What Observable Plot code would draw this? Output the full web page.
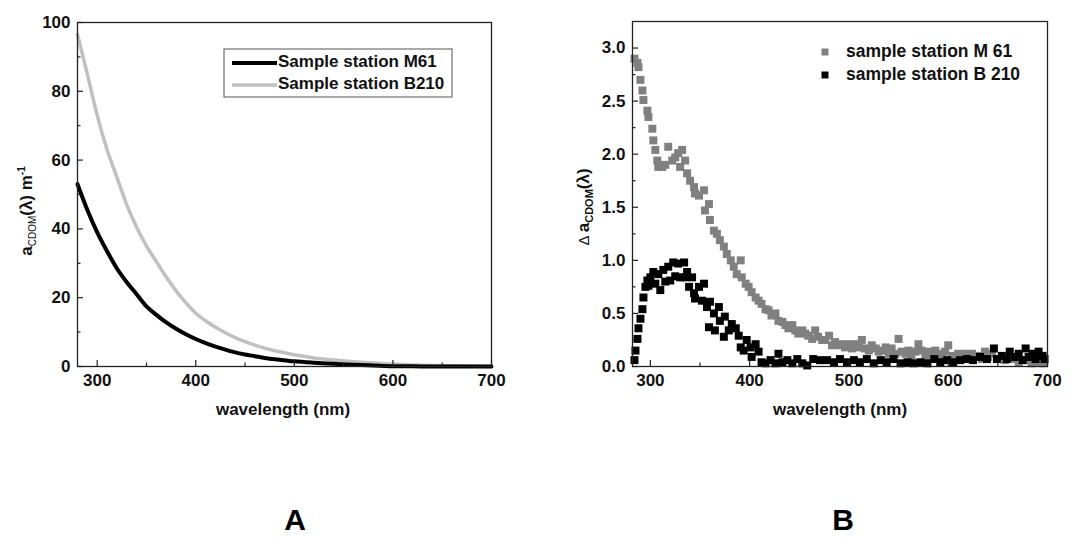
<!DOCTYPE html>
<html><head><meta charset="utf-8">
<script src="https://cdn.jsdelivr.net/npm/d3@7"></script>
<script src="https://cdn.jsdelivr.net/npm/@observablehq/plot@0.6"></script>
<style>
body{margin:0;background:#fff;}
#wrap{position:relative;width:1074px;height:539px;overflow:hidden;background:#fff;font-family:"Liberation Sans",Arial,sans-serif;}
#pa{position:absolute;left:0;top:0;}
#pb{position:absolute;left:540px;top:0;}
.plabel{position:absolute;top:504px;width:60px;text-align:center;font-weight:bold;font-size:30px;line-height:32px;}
</style></head><body>
<div id="wrap"><div id="pa"></div><div id="pb"></div>
<div class="plabel" style="left:265px">A</div><div class="plabel" style="left:813px">B</div></div>
<script>
// ---- Panel A data (wavelength in nm, absorption in m^-1)
const wlA = [280,290,300,310,320,330,340,350,360,370,380,390,400,410,420,430,440,450,460,470,480,490,500,520,540,560,580,600,620,640,660,680,700];
const aM61 = [53,45.5,39,33.5,28.5,24.5,21,17.5,15,12.8,11,9.4,8,6.8,5.8,4.9,4.1,3.5,3.0,2.5,2.1,1.8,1.5,1.1,0.8,0.5,0.3,0.1,0.05,0,0,0,0];
const aB210 = [96.5,85,73,63,55,47,40.5,35,30.5,26,22,18.5,15.5,13.3,11.4,9.8,8.4,7.2,6.2,5.3,4.6,4.0,3.4,2.5,1.9,1.4,1.0,0.7,0.45,0.3,0.2,0.1,0];
const seriesA = ["Sample station M61","Sample station B210"];
const colorsA = ["#000000","#c0c0c0"];

// ---- Panel B data
const wlM61 = [284,287,288,290,292,293,297,298,302,303,305,307,308,312,315,318,322,325,328,330,332,335,337,340,344,345,349,354,355,359,360,364,367,370,374,377,381,384,387,391,392,396,399,402,406,409,412,416,419,422,426,429,433,436,439,443,446,449,453,456,459,463,466,469,473,476,480,483,486,490,493,496,500,503,506,510,513,516,520,523,527,530,533,537,540,543,547,550,553,557,560,563,567,570,573,577,580,583,587,590,594,597,600,604,607,610,614,617,620,624,627,630,634,637,640,644,651,657,664,671,677,684,691,696];
const dM61 = [2.90,2.86,2.82,2.70,2.60,2.51,2.41,2.35,2.24,2.13,2.04,1.94,1.88,1.88,1.90,2.07,1.94,1.97,2.01,1.88,2.04,1.94,1.82,1.75,1.69,1.63,1.61,1.66,1.47,1.53,1.38,1.28,1.25,1.19,1.13,1.06,1.00,0.94,0.87,1.00,0.84,0.78,0.75,0.70,0.65,0.62,0.59,0.54,0.53,0.48,0.50,0.43,0.42,0.39,0.36,0.39,0.34,0.31,0.34,0.31,0.29,0.26,0.34,0.28,0.25,0.25,0.29,0.20,0.23,0.20,0.21,0.18,0.21,0.17,0.21,0.18,0.25,0.17,0.15,0.20,0.17,0.14,0.15,0.18,0.12,0.17,0.12,0.26,0.14,0.12,0.15,0.10,0.14,0.21,0.15,0.10,0.14,0.10,0.15,0.12,0.09,0.14,0.20,0.10,0.09,0.12,0.09,0.12,0.07,0.12,0.09,0.10,0.07,0.14,0.09,0.12,0.07,0.06,0.07,0.04,0.06,0.03,0.04,0.03];
const wlB210 = [284,285,287,288,290,292,293,295,297,298,300,303,305,308,310,313,315,318,320,323,325,328,330,334,335,337,339,342,344,345,349,352,354,357,359,360,364,365,369,370,374,375,379,382,386,389,391,394,397,401,402,406,409,412,416,421,426,429,433,438,443,448,453,458,464,471,478,485,491,498,505,511,518,525,532,538,545,552,559,565,572,579,586,592,599,605,612,619,625,632,639,646,649,654,659,662,667,671,675,678,681,685,688,691,695,697];
const dB210 = [0.06,0.15,0.26,0.36,0.45,0.54,0.65,0.75,0.81,0.76,0.84,0.89,0.78,0.87,0.72,0.91,0.80,0.94,0.81,0.98,0.85,0.97,0.84,0.98,0.84,0.89,0.75,0.84,0.69,0.64,0.75,0.62,0.78,0.56,0.37,0.61,0.50,0.34,0.56,0.43,0.28,0.47,0.34,0.40,0.36,0.29,0.18,0.15,0.25,0.18,0.09,0.21,0.14,0.04,0.03,0.06,0.03,0.12,0.04,0.06,0.03,0.07,0.03,0.01,0.07,0.06,0.06,0.04,0.07,0.04,0.06,0.04,0.07,0.03,0.06,0.04,0.07,0.03,0.04,0.03,0.04,0.03,0.07,0.04,0.06,0.04,0.06,0.07,0.06,0.09,0.07,0.17,0.07,0.10,0.07,0.14,0.09,0.12,0.06,0.17,0.09,0.12,0.07,0.14,0.10,0.07];
const seriesB = ["sample station M 61","sample station B 210"];
const colorsB = ["#808080","#000000"];

// ---- ticks
const xTicks = [300,400,500,600,700];
const xMinor = [350,450,550,650];
const yTicksA = [0,20,40,60,80,100];
const yMinorA = [10,30,50,70,90];
const yTicksB = [0,0.5,1.0,1.5,2.0,2.5,3.0];
const yMinorB = [0.25,0.75,1.25,1.75,2.25,2.75];

const FONT = '"Liberation Sans", Arial, sans-serif';
const tickText = {fontSize: 17, fontWeight: "bold", fill: "#111"};

// inward ticks: lengths in pixels converted to data units of each panel
function axes(cfg, yT, yM, fmt) {
  const pw = cfg.width - cfg.marginLeft - cfg.marginRight;
  const ph = cfg.height - cfg.marginTop - cfg.marginBottom;
  const [x0, x1] = cfg.x.domain, [y0, y1] = cfg.y.domain;
  const kx = (x1 - x0) / pw, ky = (y1 - y0) / ph;
  const st = {stroke: "#222", strokeWidth: 1.2};
  return [
    Plot.axisX(xTicks, {tickSize: 0, tickPadding: 7, label: null, ...tickText}),
    Plot.axisY(yT, {tickSize: 0, tickPadding: 7, label: null, tickFormat: fmt, ...tickText}),
    Plot.ruleX(xTicks, {x: d => d, y1: y0, y2: y0 + 6 * ky, ...st}),
    Plot.ruleX(xMinor, {x: d => d, y1: y0, y2: y0 + 3.5 * ky, ...st}),
    Plot.ruleY(yT, {y: d => d, x1: x0, x2: x0 + 6 * kx, ...st}),
    Plot.ruleY(yM, {y: d => d, x1: x0, x2: x0 + 3.5 * kx, ...st}),
    Plot.frame({stroke: "#222", strokeWidth: 1.3})
  ];
}

// ---- Panel A
const tidyA = [];
seriesA.forEach((s, i) => {
  const vals = i === 0 ? aM61 : aB210;
  wlA.forEach((w, j) => tidyA.push({series: s, w, v: vals[j]}));
});
const cfgA = {
  width: 540, height: 420,
  marginLeft: 77, marginRight: 49, marginTop: 22, marginBottom: 54,
  style: {fontFamily: FONT, background: "#fff"},
  x: {domain: [280, 700]},
  y: {domain: [0, 100]}
};
cfgA.marks = [
  Plot.line(tidyA.filter(d => d.series === seriesA[1]), {x: "w", y: "v", stroke: colorsA[1], strokeWidth: 3.5, curve: "monotone-x"}),
  Plot.line(tidyA.filter(d => d.series === seriesA[0]), {x: "w", y: "v", stroke: colorsA[0], strokeWidth: 4, curve: "monotone-x"}),
  ...axes(cfgA, yTicksA, yMinorA, d3.format("d"))
];
const svgA = Plot.plot(cfgA);
document.getElementById("pa").appendChild(svgA);
{
  const s = d3.select(svgA);
  s.append("text").attr("x", 283).attr("y", 411).attr("text-anchor", "middle").attr("dominant-baseline", "middle")
    .attr("font-size", 17).attr("font-weight", "bold").attr("fill", "#111").text("wavelength (nm)");
  const t = s.append("text").attr("transform", "translate(32,211) rotate(-90)").attr("text-anchor", "middle")
    .attr("font-weight", "bold").attr("fill", "#111").attr("font-size", 17);
  t.append("tspan").text("a");
  t.append("tspan").attr("font-size", 10).attr("font-weight", "normal").attr("dy", 4).text("CDOM");
  t.append("tspan").attr("dy", -4).text("(λ) m");
  t.append("tspan").attr("font-size", 10).attr("dy", -7).text("-1");
  // legend
  const lg = s.append("g");
  lg.append("rect").attr("x", 224).attr("y", 49).attr("width", 228).attr("height", 48)
    .attr("fill", "#fff").attr("stroke", "#555").attr("stroke-width", 1);
  seriesA.forEach((name, i) => {
    const y = 63 + i * 22;
    lg.append("line").attr("x1", 232).attr("x2", 277).attr("y1", y).attr("y2", y)
      .attr("stroke", colorsA[i]).attr("stroke-width", i === 0 ? 4 : 3.5);
    lg.append("text").attr("x", 278).attr("y", y).attr("text-anchor", "start").attr("dominant-baseline", "middle")
      .attr("font-size", 17).attr("font-weight", "bold").attr("fill", "#111").text(name);
  });
}

// ---- Panel B
const tidyB = [];
wlM61.forEach((w, j) => tidyB.push({series: seriesB[0], w, v: dM61[j]}));
wlB210.forEach((w, j) => tidyB.push({series: seriesB[1], w, v: dB210[j]}));
const cfgB = {
  width: 534, height: 420,
  marginLeft: 92, marginRight: 27, marginTop: 21, marginBottom: 54,
  style: {fontFamily: FONT, background: "#fff"},
  x: {domain: [282, 700]},
  y: {domain: [0, 3.25]}
};
cfgB.marks = [
  Plot.dot(tidyB.filter(d => d.series === seriesB[0]), {x: "w", y: "v", symbol: "square", r: 4.5, fill: colorsB[0], stroke: "none"}),
  Plot.dot(tidyB.filter(d => d.series === seriesB[1]), {x: "w", y: "v", symbol: "square", r: 4.5, fill: colorsB[1], stroke: "none"}),
  ...axes(cfgB, yTicksB, yMinorB, d3.format(".1f"))
];
const svgB = Plot.plot(cfgB);
document.getElementById("pb").appendChild(svgB);
{
  const s = d3.select(svgB);
  s.append("text").attr("x", 300).attr("y", 411).attr("text-anchor", "middle").attr("dominant-baseline", "middle")
    .attr("font-size", 17).attr("font-weight", "bold").attr("fill", "#111").text("wavelength (nm)");
  const t = s.append("text").attr("transform", "translate(49,207) rotate(-90)").attr("text-anchor", "middle")
    .attr("font-weight", "bold").attr("fill", "#111").attr("font-size", 17);
  t.append("tspan").attr("font-weight", "normal").attr("font-size", 15).text("Δ ");
  t.append("tspan").text("a");
  t.append("tspan").attr("font-size", 11).attr("dy", 4).text("CDOM");
  t.append("tspan").attr("dy", -4).text("(λ)");
  seriesB.forEach((name, i) => {
    const y = 52 + i * 23;
    s.append("rect").attr("x", 281.5).attr("y", y - 3.5).attr("width", 7).attr("height", 7).attr("fill", colorsB[i]);
    s.append("text").attr("x", 306).attr("y", y).attr("text-anchor", "start").attr("dominant-baseline", "middle")
      .attr("font-size", 17.5).attr("font-weight", "bold").attr("fill", "#111").text(name);
  });
}
</script>
</body></html>
